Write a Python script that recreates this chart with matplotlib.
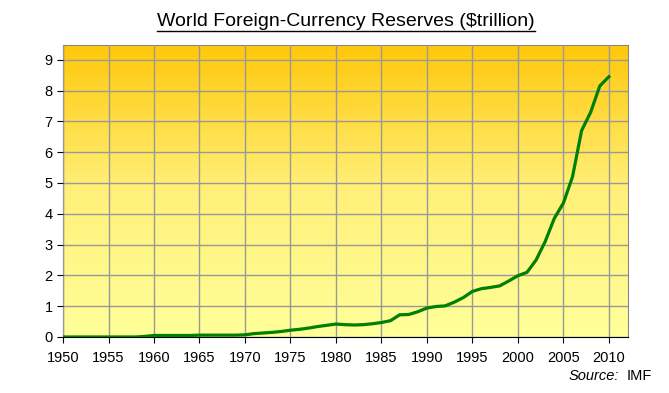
import numpy as np
import matplotlib.pyplot as plt
from matplotlib.colors import LinearSegmentedColormap
from matplotlib.lines import Line2D

plt.rcParams['font.family'] = ['Liberation Sans', 'DejaVu Sans']

# 年份与外汇储备（万亿美元）
years = list(range(1950, 2011))
reserves = [0.0, 0.0, 0.0, 0.0, 0.0, 0.0, 0.0, 0.0, 0.0, 0.02,
            0.05, 0.05, 0.05, 0.05, 0.05, 0.06, 0.06, 0.06, 0.06, 0.06,
            0.07, 0.11, 0.13, 0.15, 0.18, 0.22, 0.25, 0.29, 0.34, 0.38,
            0.42, 0.40, 0.39, 0.40, 0.43, 0.47, 0.53, 0.72, 0.73, 0.82,
            0.94, 0.99, 1.01, 1.13, 1.28, 1.48, 1.57, 1.61, 1.66, 1.82,
            1.99, 2.10, 2.50, 3.10, 3.85, 4.35, 5.20, 6.70, 7.30, 8.15,
            8.45]
x_ticks = list(range(1950, 2011, 5))
y_ticks = list(range(0, 10))

fig = plt.figure(figsize=(6.69, 3.93), dpi=100)
ax = fig.add_axes([0.0942, 0.1425, 0.8445, 0.743])

# 背景渐变：上橙下淡黄
cmap = LinearSegmentedColormap.from_list('bg', ['#FFFF99', '#FFF07A', '#FFC80A'])
grad = np.linspace(0, 1, 256).reshape(-1, 1)
ax.imshow(grad, extent=[0, 1, 0, 1], transform=ax.transAxes, aspect='auto',
          cmap=cmap, origin='lower', zorder=0)

ax.plot(years, reserves, color='#008000', lw=2.3, zorder=3)

ax.set_xlim(1950, 2012.1)
ax.set_ylim(0, 9.48)
ax.set_xticks(x_ticks)
ax.set_yticks(y_ticks)
ax.grid(True, color='#999999', lw=1, zorder=1)
ax.set_axisbelow(False)
for s in ['top', 'right']:
    ax.spines[s].set_color('#888888')
for s in ['left', 'bottom']:
    ax.spines[s].set_color('black')
ax.tick_params(axis='both', labelsize=10.5, length=4, direction='out', color='black')
ax.tick_params(axis='x', pad=6)

t = fig.text(0.517, 0.945, 'World Foreign-Currency Reserves ($trillion)',
             ha='center', va='center', fontsize=14)
fig.canvas.draw()
bb = t.get_window_extent().transformed(fig.transFigure.inverted())
fig.add_artist(Line2D([bb.x0, bb.x1], [bb.y0 - 0.002, bb.y0 - 0.002],
                      color='black', lw=1, transform=fig.transFigure))

fig.text(0.925, 0.025, 'Source:', ha='right', va='bottom', fontsize=10.5, style='italic')
fig.text(0.975, 0.025, 'IMF', ha='right', va='bottom', fontsize=10.5)

fig.savefig('out.png', dpi=100)
